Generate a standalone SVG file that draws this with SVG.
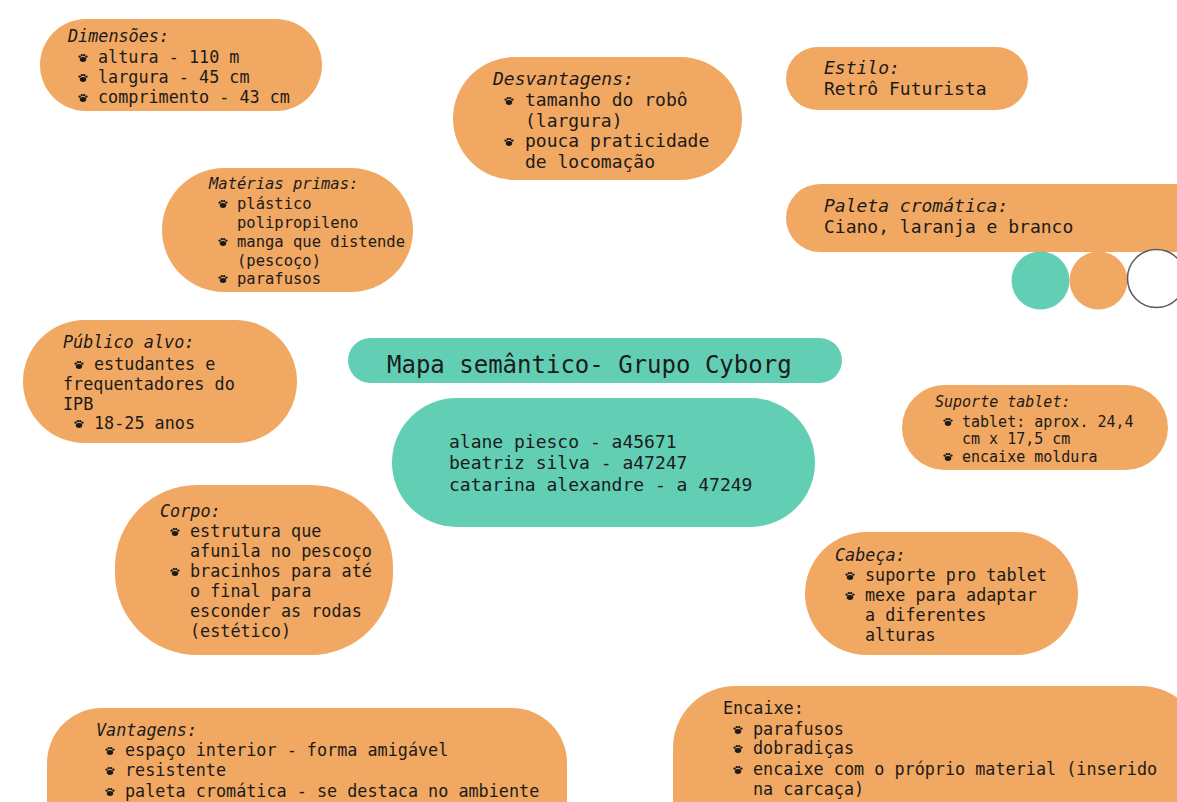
<svg xmlns="http://www.w3.org/2000/svg" xmlns:xlink="http://www.w3.org/1999/xlink" width="1177" height="802" viewBox="0 0 1177 802">
<style>
.o{fill:#F1A862}
.t{fill:#62CFB4}
text{font-family:"DejaVu Sans Mono","Liberation Mono",monospace;fill:#1b1b1b}
.h{font-style:italic}
.s17{font-size:16.8px}
.s18{font-size:18px}
.s155{font-size:15.5px}
.s15{font-size:15px}
.s24{font-size:24px}
.paw{fill:#1b1b1b}
</style>
<defs>
<g id="paw">
<ellipse cx="0" cy="1.5" rx="3.2" ry="2.4"/>
<circle cx="-3.4" cy="-1.4" r="1.2"/>
<circle cx="-1.2" cy="-2.9" r="1.2"/>
<circle cx="1.2" cy="-2.9" r="1.2"/>
<circle cx="3.4" cy="-1.4" r="1.2"/>
</g>
</defs>
<rect width="1177" height="802" fill="#ffffff"/>
<g id="connectors"/>

<g id="dimensoes">
<rect class="o" x="40" y="19" width="282" height="92" rx="46"/>
<text class="s17 h" x="68" y="42">Dimensões:</text>
<use href="#paw" class="paw" x="83" y="58"/>
<use href="#paw" class="paw" x="83" y="78"/>
<use href="#paw" class="paw" x="83" y="98"/>
<text class="s17" x="98" y="63">altura - 110 m</text>
<text class="s17" x="98" y="83">largura - 45 cm</text>
<text class="s17" x="98" y="103">comprimento - 43 cm</text>
</g>

<g id="desvantagens">
<rect class="o" x="453" y="57" width="289" height="123" rx="61.5"/>
<text class="s18 h" x="493" y="85">Desvantagens:</text>
<use href="#paw" class="paw" x="509" y="101"/>
<use href="#paw" class="paw" x="509" y="142"/>
<text class="s18" x="525" y="106">tamanho do robô</text>
<text class="s18" x="525" y="127">(largura)</text>
<text class="s18" x="525" y="147">pouca praticidade</text>
<text class="s18" x="525" y="168">de locomação</text>
</g>

<g id="materias">
<rect class="o" x="162" y="168" width="251" height="124" rx="62"/>
<text class="s155 h" x="209" y="189">Matérias primas:</text>
<use href="#paw" class="paw" x="223" y="204"/>
<use href="#paw" class="paw" x="223" y="242"/>
<use href="#paw" class="paw" x="223" y="279"/>
<text class="s155" x="237" y="209">plástico</text>
<text class="s155" x="237" y="228">polipropileno</text>
<text class="s155" x="237" y="247">manga que distende</text>
<text class="s155" x="237" y="266">(pescoço)</text>
<text class="s155" x="237" y="284">parafusos</text>
</g>

<g id="estilo">
<rect class="o" x="786" y="47" width="242" height="63" rx="31.5"/>
<text class="s18 h" x="824" y="74">Estilo:</text>
<text class="s18" x="824" y="95">Retrô Futurista</text>
</g>

<g id="paleta">
<rect class="o" x="786" y="184" width="430" height="68" rx="34"/>
<text class="s18 h" x="824" y="212">Paleta cromática:</text>
<text class="s18" x="824" y="233">Ciano, laranja e branco</text>
<circle class="t" cx="1040.5" cy="280.5" r="29"/>
<circle class="o" cx="1098.5" cy="280.5" r="29"/>
<circle cx="1156.5" cy="278.5" r="29" fill="#ffffff" stroke="#5a5a5a" stroke-width="1.5"/>
</g>

<g id="publico">
<rect class="o" x="23" y="320" width="274" height="123" rx="61.5"/>
<text class="s17 h" x="63" y="348">Público alvo:</text>
<use href="#paw" class="paw" x="79" y="365"/>
<text class="s17" x="94" y="370">estudantes e</text>
<text class="s17" x="63" y="390">frequentadores do</text>
<text class="s17" x="63" y="410">IPB</text>
<use href="#paw" class="paw" x="79" y="424"/>
<text class="s17" x="94" y="429">18-25 anos</text>
</g>

<g id="titulo">
<rect class="t" x="348" y="338" width="494" height="45" rx="22.5"/>
<text class="s24" x="387" y="373">Mapa semântico- Grupo Cyborg</text>
</g>

<g id="nomes">
<rect class="t" x="392" y="398" width="423" height="129" rx="64.5"/>
<text class="s18" x="449" y="448">alane piesco - a45671</text>
<text class="s18" x="449" y="469">beatriz silva - a47247</text>
<text class="s18" x="449" y="491">catarina alexandre - a 47249</text>
</g>

<g id="suporte">
<rect class="o" x="902" y="385" width="266" height="85" rx="42.5"/>
<text class="s15 h" x="935" y="407">Suporte tablet:</text>
<use href="#paw" class="paw" x="948" y="422"/>
<use href="#paw" class="paw" x="948" y="457"/>
<text class="s15" x="962" y="427">tablet: aprox. 24,4</text>
<text class="s15" x="962" y="444">cm x 17,5 cm</text>
<text class="s15" x="962" y="462">encaixe moldura</text>
</g>

<g id="corpo">
<rect class="o" x="115" y="485" width="278" height="170" rx="82"/>
<text class="s17 h" x="160" y="517">Corpo:</text>
<use href="#paw" class="paw" x="175" y="532"/>
<use href="#paw" class="paw" x="175" y="572"/>
<text class="s17" x="190" y="537">estrutura que</text>
<text class="s17" x="190" y="557">afunila no pescoço</text>
<text class="s17" x="190" y="577">bracinhos para até</text>
<text class="s17" x="190" y="597">o final para</text>
<text class="s17" x="190" y="617">esconder as rodas</text>
<text class="s17" x="190" y="637">(estético)</text>
</g>

<g id="cabeca">
<rect class="o" x="805" y="532" width="273" height="123" rx="61.5"/>
<text class="s17 h" x="835" y="561">Cabeça:</text>
<use href="#paw" class="paw" x="850" y="576"/>
<use href="#paw" class="paw" x="850" y="596"/>
<text class="s17" x="865" y="581">suporte pro tablet</text>
<text class="s17" x="865" y="601">mexe para adaptar</text>
<text class="s17" x="865" y="621">a diferentes</text>
<text class="s17" x="865" y="641">alturas</text>
</g>

<g id="vantagens">
<rect class="o" x="47" y="708" width="520" height="160" rx="55"/>
<text class="s17 h" x="96" y="736">Vantagens:</text>
<use href="#paw" class="paw" x="110" y="751"/>
<use href="#paw" class="paw" x="110" y="771"/>
<use href="#paw" class="paw" x="110" y="792"/>
<text class="s17" x="125" y="756">espaço interior - forma amigável</text>
<text class="s17" x="125" y="776">resistente</text>
<text class="s17" x="125" y="797">paleta cromática - se destaca no ambiente</text>
</g>

<g id="encaixe">
<rect class="o" x="673" y="686" width="530" height="180" rx="62"/>
<text class="s17" x="723" y="714">Encaixe:</text>
<use href="#paw" class="paw" x="738" y="730"/>
<use href="#paw" class="paw" x="738" y="749"/>
<use href="#paw" class="paw" x="738" y="770"/>
<text class="s17" x="753" y="735">parafusos</text>
<text class="s17" x="753" y="754">dobradiças</text>
<text class="s17" x="753" y="775">encaixe com o próprio material (inserido</text>
<text class="s17" x="753" y="795">na carcaça)</text>
</g>
</svg>
